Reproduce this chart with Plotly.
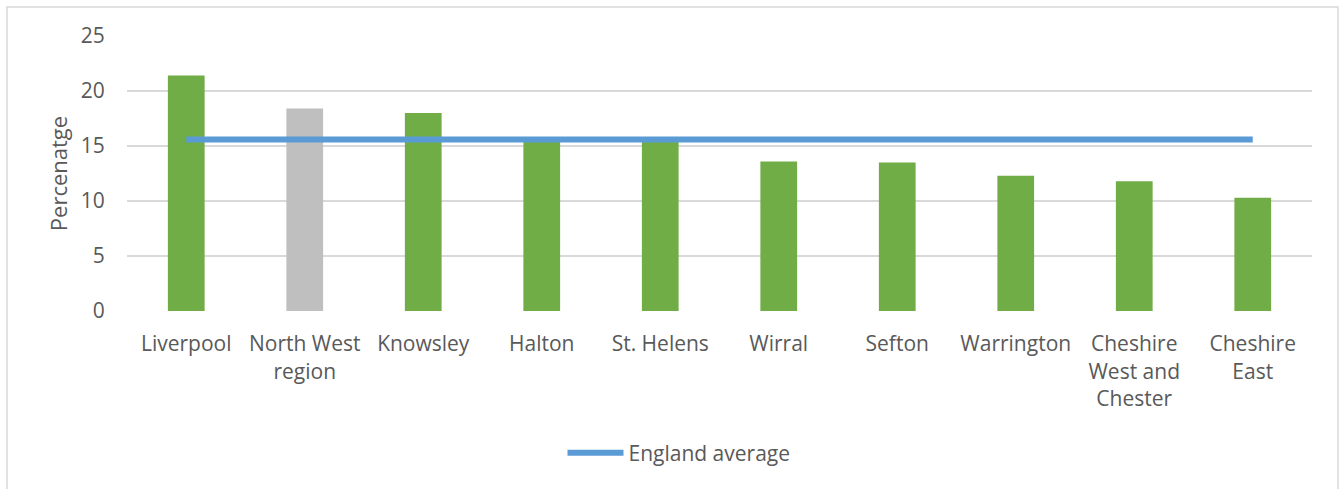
import plotly.graph_objects as go

categories = ["Liverpool", "North West<br>region", "Knowsley", "Halton", "St. Helens",
              "Wirral", "Sefton", "Warrington", "Cheshire<br>West and<br>Chester", "Cheshire<br>East"]
values = [21.4, 18.4, 18.0, 15.5, 15.5, 13.6, 13.5, 12.3, 11.8, 10.3]
bar_colors = ["#70AD47", "#BFBFBF", "#70AD47", "#70AD47", "#70AD47",
              "#70AD47", "#70AD47", "#70AD47", "#70AD47", "#70AD47"]
england_average = [15.6] * len(categories)
y_ticks = [0, 5, 10, 15, 20, 25]

FONT = "Open Sans"
TXT = "#595959"

fig = go.Figure()
fig.add_trace(go.Bar(x=categories, y=values, marker=dict(color=bar_colors, line=dict(width=0)),
                     showlegend=False, width=0.31))
fig.add_trace(go.Scatter(x=categories, y=england_average, mode="lines", name="England average",
                         line=dict(color="#5B9BD5", width=6)))

L, R, T, B = 127, 28, 36, 178
W, H = 1340, 489
pw = W - L - R
ph = H - T - B

fig.update_layout(
    width=W, height=H,
    margin=dict(l=L, r=R, t=T, b=B, autoexpand=False),
    paper_bgcolor="white", plot_bgcolor="white",
    font=dict(family=FONT, size=21, color=TXT),
    xaxis=dict(tickfont=dict(size=21, color=TXT), ticks="outside", ticklen=14, tickcolor="rgba(0,0,0,0)",
               showgrid=False, showline=False, automargin=False),
    yaxis=dict(range=[0, 25], tickvals=y_ticks, gridcolor="#D9D9D9", gridwidth=1.5,
               zeroline=False, showline=False, ticks="outside", ticklen=17, automargin=False,
               tickcolor="rgba(0,0,0,0)", tickfont=dict(size=21, color=TXT),
               title=dict(text="Percenatge", font=dict(size=22, color=TXT), standoff=7)),
    legend=dict(orientation="h", xref="container", yref="container", x=679 / W, y=(H - 453) / H,
                xanchor="center", yanchor="middle", font=dict(size=21, color=TXT), itemwidth=56),
    shapes=[dict(type="rect", xref="paper", yref="paper",
                 x0=(7 - L) / pw, x1=(1338 - L) / pw,
                 y0=(311 - 500) / ph, y1=(311 - 7) / ph,
                 line=dict(color="#D9D9D9", width=1.5), layer="below")],
)

fig.write_html("out.html", config={"displayModeBar": False},
               post_script="document.body.style.margin='0';")
